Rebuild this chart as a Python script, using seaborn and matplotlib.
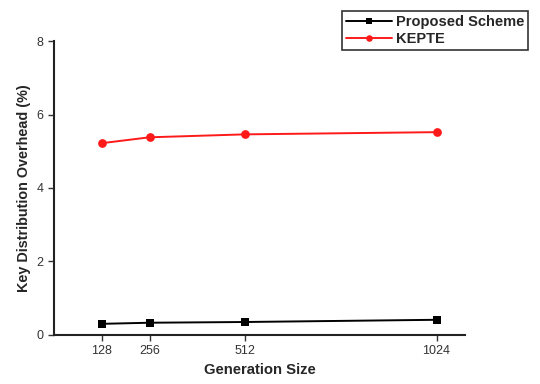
import numpy as np
import pandas as pd
import matplotlib
matplotlib.use("Agg")
import matplotlib.pyplot as plt
import seaborn as sns

# values
generation_size = [128, 256, 512, 1024]
proposed_scheme = [0.30, 0.33, 0.35, 0.41]
kepte = [5.22, 5.38, 5.46, 5.52]
y_ticks = [0, 2, 4, 6, 8]

df = pd.DataFrame({
    "Generation Size": generation_size * 2,
    "Overhead": proposed_scheme + kepte,
    "Scheme": ["Proposed Scheme"] * 4 + ["KEPTE"] * 4,
})

sns.set_style("ticks")
plt.rcParams['font.family'] = ['Liberation Sans', 'DejaVu Sans']

fig = plt.figure(figsize=(5.4, 3.84), dpi=100)
ax = fig.add_axes([0.1, 0.128, 0.761, 0.765])

sns.lineplot(data=df, x="Generation Size", y="Overhead", hue="Scheme", style="Scheme",
             palette={"Proposed Scheme": "black", "KEPTE": "#ff1a1a"},
             markers={"Proposed Scheme": "s", "KEPTE": "o"},
             dashes=False, markersize=6.3, linewidth=1.4, markeredgewidth=0, ax=ax)

ax.set_xlim(0, 1100)
ax.set_ylim(0, 8)
ax.set_xticks(generation_size)
ax.set_xticklabels([str(g) for g in generation_size], fontsize=9)
ax.set_yticks(y_ticks)
ax.set_yticklabels([str(t) for t in y_ticks], fontsize=9)
ax.set_xlabel("Generation Size", fontsize=10.7, fontweight="bold")
ax.set_ylabel("Key Distribution Overhead (%)", fontsize=10.4, fontweight="bold")
ax.tick_params(direction="out", length=4, width=1, colors="#333333")
for s in ["left", "bottom"]:
    ax.spines[s].set_linewidth(1.5)
    ax.spines[s].set_color("#222222")
sns.despine(ax=ax)

handles, labels = ax.get_legend_handles_labels()
leg = fig.legend(handles, labels, loc="upper left", bbox_to_anchor=(0.62, 0.99),
                 frameon=True, fancybox=False, handlelength=3.2, markerscale=0.75,
                 borderpad=0.25, labelspacing=0.25, handletextpad=0.25,
                 prop={"weight": "bold", "size": 10.5})
leg.get_frame().set_edgecolor("black")
leg.get_frame().set_linewidth(1.2)
if ax.get_legend():
    ax.get_legend().remove()

fig.savefig("out.png", dpi=100)
